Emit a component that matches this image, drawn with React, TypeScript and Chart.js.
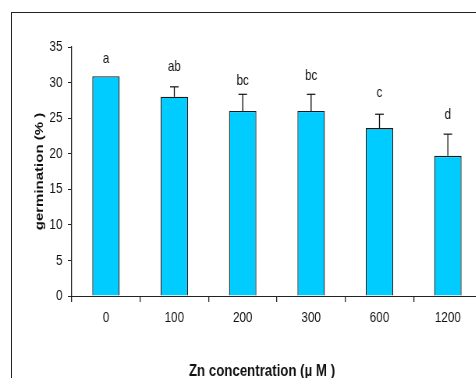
import React, { useEffect, useRef } from "react";
import { Chart, registerables } from "chart.js";

Chart.register(...registerables);

// ---- data ----
const categories = ["0", "100", "200", "300", "600", "1200"];
const germination = [30.9, 28.0, 26.0, 26.0, 23.6, 19.7];
const errors = [0, 1.4, 2.35, 2.35, 1.95, 3.05];
const letters = ["a", "ab", "bc", "bc", "c", "d"];
const letterY = [33.4, 32.15, 30.2, 31.0, 28.55, 25.5];
const yMin = 0;
const yMax = 35;
const yStep = 5;
const xTitle = "Zn concentration (µ M )";
const yTitle = "germination (% )";

// ---- layout (the original figure is horizontally compressed) ----
const SX = 0.78;
const CANVAS_W = 630;
const CANVAS_H = 378;
const FONT = "'Liberation Sans', Arial, Helvetica, sans-serif";

const annotate = {
  id: "annotate",
  afterDatasetsDraw(chart: any) {
    const { ctx } = chart;
    const meta = chart.getDatasetMeta(0);
    const y = chart.scales.y;
    ctx.save();
    ctx.strokeStyle = "#111";
    ctx.lineWidth = 1.3;
    meta.data.forEach((bar: any, i: number) => {
      const v = germination[i];
      const e = errors[i];
      if (e > 0) {
        const y0 = y.getPixelForValue(v);
        const y1 = y.getPixelForValue(v + e);
        ctx.beginPath();
        ctx.moveTo(bar.x, y0);
        ctx.lineTo(bar.x, y1);
        ctx.stroke();
        ctx.lineWidth = 1.2;
        ctx.beginPath();
        ctx.moveTo(bar.x - 5.5, y1);
        ctx.lineTo(bar.x + 5.5, y1);
        ctx.stroke();
        ctx.lineWidth = 1.3;
      }
      ctx.fillStyle = "#111";
      ctx.font = `15px ${FONT}`;
      ctx.textAlign = "center";
      ctx.textBaseline = "middle";
      ctx.fillText(letters[i], bar.x, y.getPixelForValue(letterY[i]));
    });
    ctx.restore();
  },
  afterDraw(chart: any) {
    const { ctx } = chart;
    ctx.save();
    ctx.fillStyle = "#111";
    ctx.font = `bold 17px ${FONT}`;
    ctx.textAlign = "center";
    ctx.textBaseline = "alphabetic";
    ctx.fillText(xTitle, 262 / SX, 375.5);
    ctx.restore();
  },
};

function BarChart() {
  const ref = useRef<HTMLCanvasElement | null>(null);
  useEffect(() => {
    if (!ref.current) return;
    const chart = new Chart(ref.current, {
      type: "bar",
      data: {
        labels: categories,
        datasets: [
          {
            data: germination,
            backgroundColor: "#00CCFF",
            borderColor: "#1a1a1a",
            borderWidth: 1.3,
            barPercentage: 0.4,
            categoryPercentage: 1,
          },
        ],
      },
      options: {
        animation: false,
        responsive: false,
        devicePixelRatio: 1,
        layout: { padding: { left: 0, right: 12, top: 47, bottom: 0 } },
        plugins: {
          legend: { display: false },
          tooltip: { enabled: false },
          title: { display: false },
        },
        scales: {
          x: {
            afterFit: (s: any) => {
              s.height = 82;
            },
            grid: {
              display: true,
              drawOnChartArea: false,
              drawTicks: true,
              tickLength: 6,
              offset: true,
              color: "#222",
              lineWidth: 1.3,
            },
            border: { display: true, color: "#222", width: 1 },
            ticks: {
              color: "#111",
              font: { family: FONT, size: 15 },
              padding: 7,
              maxRotation: 0,
              autoSkip: false,
            },
          },
          y: {
            min: yMin,
            max: yMax,
            afterFit: (s: any) => {
              s.width = 92;
            },
            grid: {
              display: true,
              drawOnChartArea: false,
              drawTicks: true,
              tickLength: 5,
              color: "#222",
              lineWidth: 1,
            },
            border: { display: true, color: "#222", width: 1.3 },
            ticks: {
              stepSize: yStep,
              color: "#111",
              font: { family: FONT, size: 15 },
              padding: 7,
            },
            title: {
              display: true,
              text: yTitle,
              color: "#111",
              font: { family: FONT, size: 15, weight: "bold" },
              padding: { top: 42, bottom: 0 },
            },
          },
        },
      },
      plugins: [annotate],
    });
    return () => chart.destroy();
  }, []);

  return (
    <canvas
      ref={ref}
      width={CANVAS_W}
      height={CANVAS_H}
      style={{
        position: "absolute",
        left: 0,
        top: 0,
        width: CANVAS_W + "px",
        height: CANVAS_H + "px",
        transform: `scaleX(${SX})`,
        transformOrigin: "0 0",
      }}
    />
  );
}

export default function App() {
  return (
    <div
      style={{
        position: "fixed",
        left: 0,
        top: 0,
        width: 476,
        height: 378,
        overflow: "hidden",
        background: "#fff",
      }}
    >
      <div
        style={{
          position: "absolute",
          left: 11,
          top: 12,
          width: 600,
          height: 500,
          border: "1px solid #222",
          boxSizing: "border-box",
        }}
      />
      <BarChart />
    </div>
  );
}
